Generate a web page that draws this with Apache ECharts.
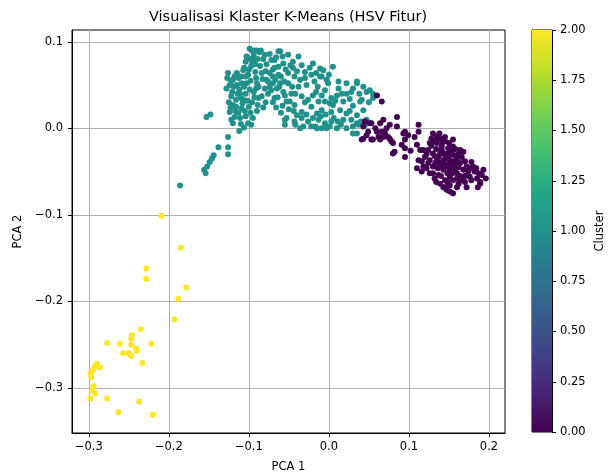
<!DOCTYPE html>
<html>
<head>
<meta charset="utf-8">
<script src="https://cdn.jsdelivr.net/npm/echarts@6/dist/echarts.min.js"></script>
<style>
  html, body { margin: 0; padding: 0; background: #fff; }
  #container { width: 613px; height: 472px; }
</style>
</head>
<body>
<div id="container"></div>
<script>
// cluster 0 (ungu)
var cluster0 = [
  [0.060,0.038],[0.066,0.031],[0.045,0.008],[0.053,0.006],[0.068,0.010],[0.076,0.004],[0.049,-0.004],[0.060,-0.004],
  [0.070,-0.006],[0.041,-0.013],[0.053,-0.013],[0.064,-0.013],[0.074,-0.010],[0.078,-0.015],[0.085,0.002],[0.043,0.002],
  [0.085,0.013],[0.095,-0.004],[0.095,-0.013],[0.095,-0.023],[0.095,-0.033],[0.080,-0.017],[0.076,-0.012],[0.082,-0.027],
  [0.091,-0.019],[0.112,0.004],[0.112,-0.004],[0.107,-0.010],[0.110,-0.019],[0.114,-0.025],[0.112,-0.037],[0.118,-0.044],
  [0.126,-0.052],[0.132,-0.058],[0.139,-0.064],[0.147,-0.071],[0.155,-0.075],[0.162,-0.064],[0.170,-0.062],[0.176,-0.056],
  [0.187,-0.052],[0.193,-0.048],[0.189,-0.064],[0.185,-0.058],[0.178,-0.039],[0.168,-0.027],[0.164,-0.025],[0.155,-0.021],
  [0.145,-0.015],[0.135,-0.010],[0.130,-0.006],[0.139,-0.012],[0.126,-0.017],[0.124,-0.025],[0.130,-0.029],[0.139,-0.029],
  [0.147,-0.029],[0.151,-0.037],[0.143,-0.037],[0.135,-0.037],[0.130,-0.044],[0.139,-0.044],[0.147,-0.044],[0.155,-0.044],
  [0.164,-0.040],[0.168,-0.048],[0.160,-0.052],[0.151,-0.056],[0.145,-0.060],[0.151,-0.066],[0.143,-0.068],[0.172,-0.044],
  [0.126,-0.037],[0.120,-0.033],[0.149,-0.023],[0.141,-0.021],[0.135,-0.017],[0.145,-0.010],[0.118,-0.025],[0.157,-0.031],
  [0.166,-0.033],[0.174,-0.050],[0.180,-0.044],[0.191,-0.054],[0.130,-0.052],[0.137,-0.054],[0.151,-0.048],[0.160,-0.035],
  [0.155,-0.013],[0.128,-0.012],[0.043,-0.012],[0.055,-0.013],[0.068,-0.010],[0.066,-0.004],[0.064,0.006],[0.051,0.006],
  [0.141,-0.025],[0.153,-0.027],[0.147,-0.035],[0.137,-0.033],[0.143,-0.048],[0.158,-0.040],[0.133,-0.040],[0.150,-0.017],
  [0.160,-0.058],[0.134,-0.024],[0.148,-0.052],[0.170,-0.055],[0.182,-0.050],[0.122,-0.046],[0.155,-0.060],[0.093,-0.006],
  [0.080,-0.029],[0.110,-0.046],[0.116,-0.050],[0.151,-0.073],[0.145,-0.068],[0.196,-0.058],[0.189,-0.062],
  [0.128,-0.020],[0.132,-0.032],[0.136,-0.046],[0.140,-0.040],[0.144,-0.030],[0.146,-0.042],[0.150,-0.032],[0.152,-0.041],
  [0.154,-0.052],[0.156,-0.038],[0.158,-0.047],[0.162,-0.045],[0.164,-0.055],[0.166,-0.060],[0.170,-0.038],[0.176,-0.046],
  [0.178,-0.060],[0.184,-0.046],[0.140,-0.055],[0.134,-0.062],[0.142,-0.016],[0.138,-0.006],[0.132,-0.015],[0.122,-0.030],
  [0.116,-0.038],[0.124,-0.040],[0.160,-0.068],[0.148,-0.062],[0.172,-0.068],[0.186,-0.068],[0.158,-0.024],[0.162,-0.030],
  [0.102,-0.026],[0.099,-0.008],[0.072,0.000],[0.058,0.000],[0.047,-0.008],[0.062,-0.010]
];

// cluster 1 (hijau toska)
var cluster1 = [
  [-0.186,-0.066],[-0.154,-0.052],[-0.156,-0.048],[-0.152,-0.044],[-0.149,-0.039],[-0.146,-0.035],[-0.144,-0.031],
  [-0.138,-0.022],[-0.126,-0.030],[-0.126,-0.022],[-0.126,-0.010],[-0.112,-0.003],[-0.153,0.013],[-0.148,0.016],
  [-0.120,0.006],[-0.122,0.010],[-0.111,0.012],[-0.124,0.019],
  [-0.099,0.092],[-0.090,0.090],[-0.103,0.083],[-0.095,0.075],[-0.107,0.067],[-0.126,0.064],[-0.120,0.056],[-0.115,0.050],
  [-0.128,0.046],[-0.111,0.040],[-0.122,0.037],[-0.107,0.033],[-0.120,0.027],[-0.109,0.023],[-0.103,0.052],[-0.101,0.062],
  [-0.080,0.085],[-0.072,0.079],[-0.063,0.071],[-0.061,0.089],[-0.065,0.046],[-0.078,0.056],[-0.055,0.038],[-0.049,0.031],
  [-0.053,0.012],[-0.042,0.004],[-0.032,0.002],[-0.017,0.002],[-0.003,0.000],[0.010,0.000],[0.022,0.000],[0.030,0.002],
  [0.035,-0.006],[0.037,0.004],[0.028,0.010],[0.022,0.017],[0.014,0.021],[0.005,0.027],[0.018,0.031],[0.010,0.038],
  [0.022,0.040],[0.030,0.046],[0.022,0.052],[0.035,0.054],[0.043,0.048],[0.051,0.044],[0.005,0.071],[-0.007,0.067],
  [-0.011,0.060],[-0.001,0.052],[0.003,0.035],[-0.009,0.038],[0.039,0.031],[0.043,0.021],[0.035,0.015],[0.047,0.010],
  [-0.063,0.089],[-0.051,0.085],[-0.038,0.083],[-0.068,0.079],[-0.057,0.075],[-0.045,0.077],[-0.034,0.073],[-0.020,0.075],
  [-0.011,0.069],[-0.030,0.065],[-0.022,0.062],[-0.009,0.060],[-0.003,0.056],[-0.018,0.054],[-0.084,0.064],[-0.074,0.064],
  [-0.063,0.062],[-0.051,0.064],[-0.043,0.060],[-0.076,0.054],[-0.061,0.052],[-0.051,0.052],[-0.038,0.048],[-0.088,0.048],
  [-0.072,0.044],[-0.057,0.042],[-0.047,0.040],[-0.034,0.037],[-0.026,0.033],[-0.013,0.031],[-0.005,0.031],[0.001,0.029],
  [-0.084,0.037],[-0.068,0.035],[-0.053,0.031],[-0.043,0.027],[-0.022,0.025],[-0.009,0.021],[0.003,0.019],[-0.015,0.017],
  [-0.034,0.019],[-0.055,0.010],[-0.043,0.008],[-0.034,0.012],[-0.026,0.008],[-0.013,0.010],[-0.005,0.006],[-0.036,0.000],
  [-0.022,0.002],[-0.009,0.000],[0.001,0.002],[0.003,0.008],[-0.090,0.052],[-0.093,0.079],
  [0.055,0.035],[0.041,0.033],[0.035,0.052],[0.047,0.042],[0.030,-0.006],[0.035,0.006],
  [-0.118,0.060],[-0.112,0.045],[-0.104,0.040],[-0.116,0.033],[-0.108,0.029],[-0.100,0.025],[-0.113,0.018],[-0.104,0.014],
  [-0.118,0.013],[-0.096,0.030],[-0.094,0.042],[-0.098,0.055],[-0.092,0.065],[-0.086,0.072],[-0.094,0.084],[-0.087,0.088],
  [-0.082,0.080],[-0.079,0.066],[-0.083,0.057],[-0.088,0.035],[-0.095,0.012],[-0.110,0.005],[-0.121,0.042],[-0.106,0.070],
  [-0.096,0.090],[-0.097,0.072],[-0.076,0.040],[-0.070,0.052],[-0.064,0.036],[-0.060,0.060],[-0.058,0.026],[-0.066,0.024],
  [-0.080,0.046],[-0.116,0.025],[-0.113,0.058],[-0.124,0.050],[-0.090,0.020],[-0.101,0.006],[-0.106,0.048],[-0.091,0.058],
  [-0.070,0.068],[-0.045,0.070],[-0.028,0.050],[-0.016,0.042],[0.012,0.046],[0.026,0.034],[-0.040,0.015],[-0.015,0.000],
  [0.015,0.004],[0.045,0.004],
  [-0.122,0.054],[-0.119,0.048],[-0.114,0.040],[-0.110,0.035],[-0.117,0.020],[-0.105,0.020],[-0.098,0.018],[-0.102,0.032],
  [-0.099,0.045],[-0.109,0.052],[-0.115,0.064],[-0.110,0.060],[-0.104,0.060],[-0.100,0.068],[-0.104,0.077],[-0.098,0.080],
  [-0.092,0.074],[-0.089,0.080],[-0.085,0.090],[-0.093,0.090],[-0.091,0.046],[-0.093,0.036],[-0.089,0.027],[-0.097,0.004],
  [-0.106,0.001],[-0.125,0.030],[-0.123,0.024],[-0.127,0.058],
  [-0.078,0.074],[-0.074,0.086],[-0.068,0.070],[-0.066,0.082],[-0.058,0.083],[-0.054,0.068],[-0.048,0.073],[-0.040,0.066],
  [-0.036,0.056],[-0.030,0.058],[-0.024,0.070],[-0.016,0.064],[-0.014,0.048],[-0.005,0.044],[0.000,0.062],[-0.070,0.060],
  [-0.067,0.056],[-0.074,0.048],[-0.062,0.048],[-0.056,0.054],[-0.046,0.048],[-0.042,0.040],[-0.050,0.022],[-0.060,0.018],
  [-0.070,0.030],[-0.079,0.030],[-0.082,0.024],[-0.030,0.030],[-0.020,0.038],[-0.020,0.012],[-0.028,0.016],[-0.010,0.014],
  [0.006,0.012],[0.011,0.008],[0.018,0.010],[0.008,0.032],[0.016,0.040],[0.012,0.054],[0.028,0.042],[0.038,0.040],
  [0.030,0.026],[0.026,0.020],[0.040,0.008],[0.050,0.030],[0.055,0.040],[-0.004,0.016],[-0.044,0.020],[-0.055,0.004]
];

// cluster 2 (kuning)
var cluster2 = [
  [-0.209,-0.101],[-0.185,-0.138],[-0.228,-0.162],[-0.228,-0.174],[-0.178,-0.184],[-0.188,-0.197],[-0.193,-0.221],
  [-0.235,-0.232],[-0.246,-0.239],[-0.247,-0.243],[-0.277,-0.248],[-0.261,-0.249],[-0.222,-0.249],[-0.247,-0.250],
  [-0.241,-0.254],[-0.240,-0.257],[-0.257,-0.260],[-0.250,-0.260],[-0.247,-0.263],[-0.233,-0.271],[-0.290,-0.272],
  [-0.286,-0.276],[-0.293,-0.276],[-0.295,-0.280],[-0.298,-0.283],[-0.297,-0.288],[-0.294,-0.298],[-0.296,-0.303],
  [-0.292,-0.306],[-0.298,-0.312],[-0.277,-0.312],[-0.237,-0.316],[-0.263,-0.328],[-0.220,-0.331]
];

var clusterColors = ['#440154', '#21918c', '#fde725'];
var xTicks = [-0.3, -0.2, -0.1, 0.0, 0.1, 0.2];
var yTicks = [-0.3, -0.2, -0.1, 0.0, 0.1];
var viridis = ['#440154', '#482475', '#414487', '#355f8d', '#2a788e', '#21918c',
               '#22a884', '#44bf70', '#7ad151', '#bddf26', '#fde725'];

var chartDom = document.getElementById('container');
var myChart = echarts.init(chartDom);
var font = 'DejaVu Sans';

function fmt1(v) {
  return (v < -1e-9 ? '\u2212' : '') + Math.abs(v).toFixed(1);
}

var stops = viridis.map(function (c, i) {
  return { offset: 1 - i / (viridis.length - 1), color: c };
});

var option = {
  animation: false,
  backgroundColor: '#fff',
  textStyle: { fontFamily: font },
  title: {
    text: 'Visualisasi Klaster K-Means (HSV Fitur)',
    left: 288,
    top: 10,
    padding: 0,
    textAlign: 'center',
    textStyle: { fontFamily: font, fontSize: 14.5, fontWeight: 'normal', color: '#000' }
  },
  grid: [
    { left: 72, top: 30, width: 433, height: 403, show: true, borderColor: '#000', borderWidth: 1,
      containLabel: false, outerBoundsMode: 'none' },
    { left: 532, top: 30, width: 20, height: 402, show: true, borderColor: '#000', borderWidth: 1,
      containLabel: false, outerBoundsMode: 'none' }
  ],
  xAxis: [
    {
      type: 'value', gridIndex: 0, min: -0.321, max: 0.22,
      name: 'PCA 1', nameLocation: 'middle', nameGap: 28,
      nameTextStyle: { fontFamily: font, fontSize: 11.5, color: '#000' },
      axisLine: { show: true, onZero: false, lineStyle: { color: '#000', width: 1 } },
      axisTick: { show: true, customValues: xTicks, length: 4, lineStyle: { color: '#000' } },
      axisLabel: { customValues: xTicks, formatter: fmt1, color: '#000', fontSize: 11.5, fontFamily: font, margin: 8 },
      splitLine: { show: true, lineStyle: { color: '#b0b0b0', width: 1 } }
    },
    { type: 'category', gridIndex: 1, data: ['c'], show: false }
  ],
  yAxis: [
    {
      type: 'value', gridIndex: 0, min: -0.352, max: 0.1136,
      name: 'PCA 2', nameLocation: 'middle', nameGap: 43,
      nameTextStyle: { fontFamily: font, fontSize: 11.5, color: '#000' },
      axisLine: { show: true, onZero: false, lineStyle: { color: '#000', width: 1 } },
      axisTick: { show: true, customValues: yTicks, length: 4, lineStyle: { color: '#000' } },
      axisLabel: { customValues: yTicks, formatter: fmt1, color: '#000', fontSize: 11.5, fontFamily: font, margin: 9 },
      splitLine: { show: true, lineStyle: { color: '#b0b0b0', width: 1 } }
    },
    {
      type: 'value', gridIndex: 1, min: 0, max: 2, interval: 0.25, position: 'right',
      name: 'Cluster', nameLocation: 'middle', nameGap: 42,
      nameTextStyle: { fontFamily: font, fontSize: 11.5, color: '#000' },
      axisLine: { show: true, lineStyle: { color: '#000', width: 1 } },
      axisTick: { show: true, length: 4, lineStyle: { color: '#000' } },
      axisLabel: { formatter: function (v) { return v.toFixed(2); }, color: '#000', fontSize: 11.5, fontFamily: font, margin: 8 },
      splitLine: { show: false }
    }
  ],
  series: [
    {
      name: 'colorbar', type: 'bar', xAxisIndex: 1, yAxisIndex: 1, data: [2], barWidth: '100%', silent: true,
      itemStyle: { color: { type: 'linear', x: 0, y: 0, x2: 0, y2: 1, colorStops: stops } }
    },
    {
      name: 'Cluster 1', type: 'scatter', data: cluster1, symbolSize: 6, silent: true,
      itemStyle: { color: clusterColors[1], opacity: 1 }
    },
    {
      name: 'Cluster 0', type: 'scatter', data: cluster0, symbolSize: 6, silent: true,
      itemStyle: { color: clusterColors[0], opacity: 1 }
    },
    {
      name: 'Cluster 2', type: 'scatter', data: cluster2, symbolSize: 6, silent: true,
      itemStyle: { color: clusterColors[2], opacity: 1 }
    }
  ]
};

option && myChart.setOption(option);
</script>
</body>
</html>
